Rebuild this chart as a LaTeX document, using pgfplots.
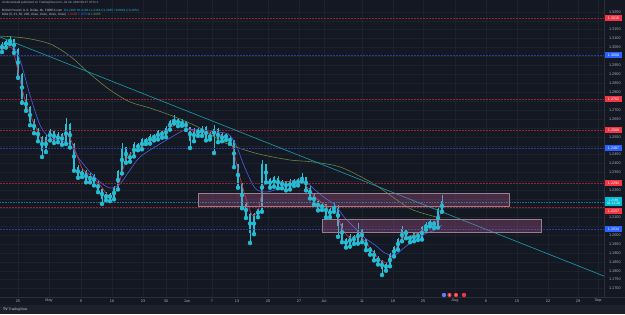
\documentclass[border=0pt]{standalone}
\usepackage{pgfplots}
\pgfplotsset{compat=1.18}
\usepackage{pgfplotstable}
\usepackage{fontspec}
\setmainfont{Liberation Sans}
\definecolor{bg}{RGB}{20,24,35}
\definecolor{barbg}{RGB}{28,32,43}
\definecolor{gridc}{RGB}{29,33,44}
\definecolor{sepc}{RGB}{42,46,57}
\definecolor{txt}{RGB}{170,174,184}
\definecolor{hdr}{RGB}{200,203,212}
\definecolor{candle}{RGB}{38,190,212}
\definecolor{mared}{RGB}{205,45,70}
\definecolor{mablue}{RGB}{70,92,215}
\definecolor{magreen}{RGB}{100,135,70}
\definecolor{trend}{RGB}{25,145,158}
\definecolor{lvred}{RGB}{150,35,52}
\definecolor{lvblue}{RGB}{38,62,150}
\definecolor{lbred}{RGB}{242,54,69}
\definecolor{lbblue}{RGB}{41,98,255}
\definecolor{lbcyan}{RGB}{0,188,212}
\definecolor{zonefill}{RGB}{200,100,160}
\definecolor{zoneedge}{RGB}{150,128,140}

\pgfplotstableread{
x o h l c
2 1.3040 1.3080 1.3025 1.3064
6 1.3064 1.3095 1.3050 1.3081
10 1.3081 1.3114 1.3070 1.3092
14 1.3092 1.3100 1.3020 1.3036
18 1.3036 1.3045 1.2880 1.2896
22 1.2896 1.2905 1.2740 1.2756
26 1.2756 1.2790 1.2695 1.2711
30 1.2711 1.2725 1.2615 1.2633
34 1.2633 1.2650 1.2570 1.2588
38 1.2588 1.2600 1.2525 1.2543
42 1.2543 1.2555 1.2437 1.2476
46 1.2476 1.2560 1.2465 1.2543
50 1.2543 1.2595 1.2530 1.2577
54 1.2577 1.2590 1.2515 1.2532
58 1.2532 1.2575 1.2520 1.2560
62 1.2560 1.2570 1.2505 1.2521
66 1.2521 1.2655 1.2510 1.2616
70 1.2616 1.2625 1.2490 1.2504
74 1.2504 1.2515 1.2360 1.2375
78 1.2375 1.2390 1.2320 1.2336
82 1.2336 1.2370 1.2325 1.2353
86 1.2353 1.2365 1.2295 1.2308
90 1.2308 1.2345 1.2295 1.2330
94 1.2330 1.2340 1.2278 1.2291
98 1.2291 1.2300 1.2240 1.2252
102 1.2252 1.2262 1.2174 1.2207
106 1.2207 1.2240 1.2195 1.2224
110 1.2224 1.2235 1.2190 1.2207
114 1.2207 1.2275 1.2200 1.2263
118 1.2263 1.2365 1.2255 1.2353
122 1.2353 1.2515 1.2345 1.2487
126 1.2487 1.2495 1.2405 1.2420
130 1.2420 1.2465 1.2410 1.2448
134 1.2448 1.2518 1.2440 1.2504
138 1.2504 1.2515 1.2475 1.2487
142 1.2487 1.2545 1.2480 1.2532
146 1.2532 1.2545 1.2510 1.2521
150 1.2521 1.2568 1.2512 1.2554
154 1.2554 1.2565 1.2530 1.2543
158 1.2543 1.2590 1.2535 1.2577
162 1.2577 1.2588 1.2545 1.2554
166 1.2554 1.2612 1.2548 1.2599
170 1.2599 1.2645 1.2590 1.2633
174 1.2633 1.2672 1.2625 1.2644
178 1.2644 1.2655 1.2610 1.2622
182 1.2622 1.2648 1.2612 1.2633
186 1.2633 1.2640 1.2588 1.2599
190 1.2599 1.2605 1.2487 1.2532
194 1.2532 1.2600 1.2525 1.2588
198 1.2588 1.2598 1.2555 1.2566
202 1.2566 1.2612 1.2555 1.2599
206 1.2599 1.2608 1.2530 1.2543
210 1.2543 1.2575 1.2535 1.2560
214 1.2560 1.2616 1.2459 1.2588
218 1.2588 1.2598 1.2520 1.2532
222 1.2532 1.2572 1.2525 1.2560
226 1.2560 1.2570 1.2532 1.2543
230 1.2543 1.2555 1.2510 1.2521
234 1.2521 1.2530 1.2380 1.2392
238 1.2392 1.2400 1.2265 1.2280
242 1.2280 1.2290 1.2150 1.2168
246 1.2168 1.2180 1.2095 1.2112
250 1.2112 1.2125 1.1955 1.2017
254 1.2017 1.2125 1.2005 1.2112
258 1.2112 1.2160 1.2100 1.2140
262 1.2140 1.2420 1.2130 1.2392
266 1.2392 1.2400 1.2295 1.2308
270 1.2308 1.2320 1.2265 1.2280
274 1.2280 1.2332 1.2270 1.2319
278 1.2319 1.2328 1.2262 1.2274
282 1.2274 1.2310 1.2262 1.2297
286 1.2297 1.2305 1.2250 1.2263
290 1.2263 1.2315 1.2255 1.2302
294 1.2302 1.2312 1.2275 1.2286
298 1.2286 1.2320 1.2278 1.2308
302 1.2308 1.2347 1.2300 1.2319
306 1.2319 1.2325 1.2250 1.2263
310 1.2263 1.2272 1.2205 1.2218
314 1.2218 1.2228 1.2170 1.2185
318 1.2185 1.2195 1.2138 1.2151
322 1.2151 1.2180 1.2140 1.2168
326 1.2168 1.2175 1.2098 1.2112
330 1.2112 1.2152 1.2100 1.2140
334 1.2140 1.2185 1.2130 1.2162
338 1.2162 1.2170 1.1990 1.2056
342 1.2056 1.2065 1.1960 1.1972
346 1.1972 1.1985 1.1930 1.1944
350 1.1944 1.2005 1.1935 1.1994
354 1.1994 1.2002 1.1950 1.1961
358 1.1961 1.2067 1.1952 1.2028
362 1.2028 1.2035 1.1960 1.1972
366 1.1972 1.1980 1.1915 1.1927
370 1.1927 1.1935 1.1890 1.1905
374 1.1905 1.1915 1.1858 1.1871
378 1.1871 1.1880 1.1835 1.1849
382 1.1849 1.1860 1.1776 1.1815
386 1.1815 1.1845 1.1800 1.1832
390 1.1832 1.1900 1.1825 1.1888
394 1.1888 1.1940 1.1880 1.1927
398 1.1927 1.1985 1.1918 1.1972
402 1.1972 1.2050 1.1965 1.2028
406 1.2028 1.2035 1.1982 1.1994
410 1.1994 1.2002 1.1960 1.1972
414 1.1972 1.2018 1.1965 1.2006
418 1.2006 1.2012 1.1972 1.1983
422 1.1983 1.2052 1.1975 1.2039
426 1.2039 1.2070 1.2030 1.2056
430 1.2056 1.2085 1.2048 1.2073
434 1.2073 1.2080 1.2040 1.2050
438 1.2050 1.2150 1.2042 1.2140
442 1.2140 1.2224 1.2130 1.2185
}\candles

\pgfplotstableread{
x y
2 1.3036
12 1.3047
20 1.2868
25 1.2756
30 1.2672
35 1.2616
42 1.2532
50 1.2532
60 1.2543
68 1.2560
75 1.2476
82 1.2375
90 1.2336
100 1.2280
108 1.2224
115 1.2235
120 1.2308
126 1.2420
133 1.2465
145 1.2504
160 1.2560
175 1.2616
185 1.2605
195 1.2577
210 1.2571
225 1.2549
232 1.2504
238 1.2364
245 1.2224
252 1.2112
258 1.2140
264 1.2280
270 1.2297
285 1.2297
300 1.2308
308 1.2263
315 1.2213
325 1.2168
335 1.2140
342 1.2039
350 1.1983
360 1.1994
370 1.1927
380 1.1860
388 1.1849
395 1.1916
402 1.1983
410 1.1994
420 1.2017
430 1.2056
436 1.2073
442 1.2140
}\redma

\pgfplotstableread{
x y
2 1.3064
12 1.3064
20 1.2980
30 1.2784
40 1.2616
50 1.2543
60 1.2532
70 1.2504
80 1.2420
90 1.2353
100 1.2297
110 1.2263
120 1.2286
130 1.2364
140 1.2437
155 1.2493
170 1.2543
185 1.2588
200 1.2588
215 1.2577
228 1.2566
236 1.2504
245 1.2375
255 1.2263
265 1.2241
275 1.2252
290 1.2280
305 1.2297
315 1.2252
325 1.2207
335 1.2168
345 1.2095
355 1.2039
365 1.1983
375 1.1944
385 1.1899
395 1.1888
405 1.1933
415 1.1972
425 1.2006
435 1.2028
442 1.2056
}\bluema

\pgfplotstableread{
x y
0 1.3114
25 1.3103
50 1.3070
70 1.3002
90 1.2902
110 1.2812
130 1.2745
150 1.2711
175 1.2661
200 1.2599
223 1.2521
245 1.2476
263 1.2448
290 1.2420
313 1.2409
340 1.2381
367 1.2308
380 1.2263
397 1.2196
413 1.2140
440 1.2095
}\greenma

\begin{document}
\begin{tikzpicture}[x=1pt,y=1pt]
\fill[bg] (0,0) rectangle (625,314);
\fill[barbg] (0,0) rectangle (625,9);
\begin{axis}[
  at={(0pt,314pt)}, anchor=north west,
  scale only axis, width=604pt, height=297pt,
  xmin=0, xmax=604, ymin=1.16528, ymax=1.3316,
  clip=false,
  axis line style={draw=none},
  grid=both,
  major grid style={gridc, line width=0.4pt},
  minor grid style={gridc, line width=0.4pt},
  major tick length=0pt, minor tick length=0pt,
  xtick={18,49,81,112,143,166,187,212,237,268,299,324,362,393,423,455,486,517,548,578,598},
  xticklabels={25,May,9,16,23,30,Jun,7,13,20,27,Jul,11,18,25,Aug,8,15,22,29,Sep},
  xticklabel style={font=\fontsize{3.8}{4}\selectfont, text=txt, anchor=center, yshift=-4pt},
  ytick={1.170,1.175,1.180,1.185,1.190,1.195,1.200,1.210,1.225,1.235,1.240,1.245,1.255,1.265,1.270,1.280,1.285,1.290,1.295,1.305,1.310,1.315,1.325},
  minor ytick={1.200,1.205,1.210,1.215,1.220,1.225,1.230,1.250,1.260,1.275,1.300,1.320},
  yticklabel pos=right,
  scaled y ticks=false,
  yticklabel style={font=\fontsize{3.8}{4}\selectfont, text=txt, anchor=west, xshift=1.5pt,
    /pgf/number format/.cd, fixed, fixed zerofill, precision=4, assume math mode=true},
]
% candles: wicks and bodies
\addplot[color=candle, only marks, mark=none, forget plot, error bars/.cd, y dir=plus, y explicit, error mark=none,
  error bar style={draw=candle, line width=0.6pt}]
  table[x=x, y=l, y error plus expr=\thisrow{h}-\thisrow{l}] {\candles};
\addplot[color=candle, only marks, mark=none, forget plot, error bars/.cd, y dir=both, y explicit, error mark=none,
  error bar style={draw=candle, line width=1.6pt, line cap=butt}]
  table[x=x, y expr=(\thisrow{o}+\thisrow{c})/2, y error expr=abs(\thisrow{c}-\thisrow{o})/2+0.0003] {\candles};
% moving averages
\addplot[mablue, line width=0.65pt, smooth] table[x=x,y=y] {\bluema};
\addplot[mared, line width=0.65pt, smooth] table[x=x,y=y] {\redma};
\addplot[magreen, line width=0.6pt, smooth] table[x=x,y=y] {\greenma};
% horizontal levels
\addplot[lvred, line width=0.5pt, dash pattern=on 1.5pt off 1.5pt] coordinates {(0,1.3215) (604,1.3215)};
\addplot[lvblue, line width=0.5pt, dash pattern=on 1.5pt off 1.5pt] coordinates {(0,1.3008) (604,1.3008)};
\addplot[lvred, line width=0.5pt, dash pattern=on 1.5pt off 1.5pt] coordinates {(0,1.2762) (604,1.2762)};
\addplot[lvred, line width=0.5pt, dash pattern=on 1.5pt off 1.5pt] coordinates {(0,1.2588) (604,1.2588)};
\addplot[lvblue, line width=0.5pt, dash pattern=on 1.5pt off 1.5pt] coordinates {(0,1.2487) (604,1.2487)};
\addplot[lvred, line width=0.5pt, dash pattern=on 1.5pt off 1.5pt] coordinates {(0,1.2291) (604,1.2291)};
\addplot[lvred, line width=0.5pt, dash pattern=on 1.5pt off 1.5pt] coordinates {(0,1.2157) (604,1.2157)};
\addplot[lvblue, line width=0.5pt, dash pattern=on 1.5pt off 1.5pt] coordinates {(0,1.2034) (604,1.2034)};
\addplot[lbcyan!60!bg, line width=0.4pt, dash pattern=on 0.6pt off 1pt] coordinates {(0,1.2185) (604,1.2185)};
% trend line
\addplot[trend, line width=0.7pt] coordinates {(0,1.3109) (604,1.1770)};
% zones
\addplot[fill=zonefill, fill opacity=0.28, draw=zoneedge, line width=0.7pt] coordinates {(198,1.2162) (509,1.2162) (509,1.2235) (198,1.2235)} -- cycle;
\addplot[fill=zonefill, fill opacity=0.28, draw=zoneedge, line width=0.7pt] coordinates {(322,1.2017) (541,1.2017) (541,1.2090) (322,1.2090)} -- cycle;
% price scale labels
\tikzset{plab/.style={text=white, font=\fontsize{3.6}{4}\selectfont, minimum width=17pt, minimum height=6.5pt, inner sep=0pt}}
\node[plab, fill=lbred] at (axis cs:613.5,1.3215) {1.3215};
\node[plab, fill=lbblue] at (axis cs:613.5,1.3008) {1.3008};
\node[plab, fill=lbred] at (axis cs:613.5,1.2762) {1.2762};
\node[plab, fill=lbred] at (axis cs:613.5,1.2588) {1.2588};
\node[plab, fill=lbblue] at (axis cs:613.5,1.2487) {1.2487};
\node[plab, fill=lbred] at (axis cs:613.5,1.2291) {1.2291};
\node[plab, fill=lbred] at (axis cs:613.5,1.2134) {1.2157};
\node[plab, fill=lbblue] at (axis cs:613.5,1.2034) {1.2034};
\node[text=white, fill=lbcyan, font=\fontsize{3.3}{3.6}\selectfont, minimum width=17pt, minimum height=9pt, inner sep=0pt, align=center] at (axis cs:613.5,1.2185) {1.2185\\[-0.6pt]01:12:38};
\end{axis}
% separators
\draw[sepc, line width=0.4pt] (0,17) -- (625,17);
\draw[sepc, line width=0.4pt] (604,17) -- (604,314);
% header
\node[anchor=west, inner sep=0pt, text=txt, font=\fontsize{3}{3.4}\selectfont] at (2,311.3) {chidoziedavid published on TradingView.com, Jul 29, 2022 08:47 UTC+1};
\node[anchor=west, inner sep=0pt, font=\fontsize{3.1}{3.4}\selectfont] at (2,303.3) {\textcolor{hdr}{British Pound / U.S. Dollar, 4h, FOREX.com}\ \ \textcolor{candle}{O1.2166 H1.2194 L1.2164 C1.2185 +0.0019 (+0.16\%)}};
\node[anchor=west, inner sep=0pt, font=\fontsize{3.1}{3.4}\selectfont] at (2,299.6) {\textcolor{hdr}{MAs (5, 21, 50, 200, close, close, close, close)}\ \ \textcolor{lbred}{1.2140}\ \textcolor{lbblue}{1.2056}\ \textcolor{hdr}{n}\ \textcolor{magreen!80!white}{1.2095}};
% event icons
\fill[lbblue!80!white] (444,19) circle (2.2);
\fill[lbred] (449.5,19) circle (2.2);
\fill[lbred] (456,19) circle (2.2);
\fill[lbred] (464,19) circle (2.2);
\fill[white] (449.5,19) circle (0.6);
\fill[white] (456,19) circle (0.6);
% logo
\node[anchor=west, inner sep=0pt, text=hdr, font=\fontsize{3.4}{3.6}\selectfont\bfseries] at (3,4.5) {TV};
\node[anchor=west, inner sep=0pt, text=hdr, font=\fontsize{3.4}{3.6}\selectfont] at (8.5,4.5) {TradingView};
\pgfresetboundingbox
\path[use as bounding box] (0,0) rectangle (625,314);
\end{tikzpicture}
\end{document}
